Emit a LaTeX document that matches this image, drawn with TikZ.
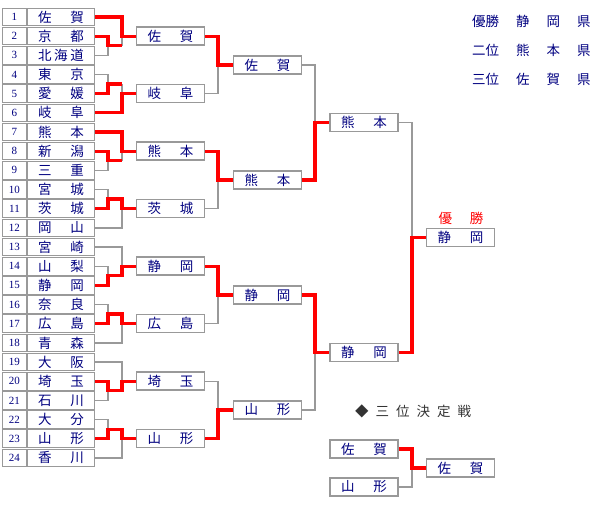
\documentclass[tikz,border=0pt]{standalone}
\usepackage{fontspec}
\setmainfont{Liberation Serif}
\newfontfamily\jp{Noto Sans CJK JP}
\definecolor{txtnavy}{RGB}{0,0,128}
\definecolor{lgrey}{RGB}{153,153,153}
\definecolor{dgrey}{RGB}{51,51,51}
\definecolor{rred}{RGB}{255,0,0}
\newcommand\two[2]{\hbox to 46pt{#1\hfill#2}}
\newcommand\three[3]{\hbox to 46pt{#1\hfill#2\hfill#3}}
\tikzset{
  cell/.style={draw=lgrey, line width=1pt, minimum height=17.6pt, inner sep=0pt, fill=white, text=txtnavy},
  numcell/.style={cell, minimum width=24pt, font=\fontsize{11}{11}\selectfont},
  namecell/.style={cell, minimum width=67pt, font=\jp\fontsize{13.5}{13.5}\selectfont},
  tbox/.style={draw=lgrey, line width=1.5pt, minimum width=68pt, minimum height=18pt, inner sep=0pt, fill=white, text=txtnavy, font=\jp\fontsize{13.5}{13.5}\selectfont},
  gl/.style={draw=lgrey, line width=1.3pt},
  rl/.style={draw=rred, line width=3.3pt, line join=miter},
  jtxt/.style={inner sep=0pt, font=\jp\fontsize{13.5}{13.5}\selectfont},
}
\begin{document}
\begin{tikzpicture}[x=1pt,y=-1pt]
\useasboundingbox (0,0) rectangle (600,510);
% table
\foreach \i/\y/\nm in {
  1/17.00/{\two{佐}{賀}}, 2/36.17/{\two{京}{都}}, 3/55.34/{\three{北}{海}{道}},
  4/74.51/{\two{東}{京}}, 5/93.68/{\two{愛}{媛}}, 6/112.85/{\two{岐}{阜}},
  7/132.02/{\two{熊}{本}}, 8/151.19/{\two{新}{潟}}, 9/170.36/{\two{三}{重}},
  10/189.53/{\two{宮}{城}}, 11/208.70/{\two{茨}{城}}, 12/227.87/{\two{岡}{山}},
  13/247.04/{\two{宮}{崎}}, 14/266.21/{\two{山}{梨}}, 15/285.38/{\two{静}{岡}},
  16/304.55/{\two{奈}{良}}, 17/323.72/{\two{広}{島}}, 18/342.89/{\two{青}{森}},
  19/362.06/{\two{大}{阪}}, 20/381.23/{\two{埼}{玉}}, 21/400.40/{\two{石}{川}},
  22/419.57/{\two{大}{分}}, 23/438.74/{\two{山}{形}}, 24/457.91/{\two{香}{川}}}{
  \node[numcell] (k\i) at (14.5,\y) {\i};
  \node[namecell] (n\i) at (61,\y) {\nm};
}
% round boxes
\node[tbox] (B1) at (170.5,36.17) {\two{佐}{賀}};
\node[tbox] (B2) at (170.5,93.68) {\two{岐}{阜}};
\node[tbox] (B3) at (170.5,151.19) {\two{熊}{本}};
\node[tbox] (B4) at (170.5,208.70) {\two{茨}{城}};
\node[tbox] (B5) at (170.5,266.21) {\two{静}{岡}};
\node[tbox] (B6) at (170.5,323.72) {\two{広}{島}};
\node[tbox] (B7) at (170.5,381.23) {\two{埼}{玉}};
\node[tbox] (B8) at (170.5,438.74) {\two{山}{形}};
\node[tbox] (C1) at (267.5,64.93) {\two{佐}{賀}};
\node[tbox] (C2) at (267.5,179.95) {\two{熊}{本}};
\node[tbox] (C3) at (267.5,294.97) {\two{静}{岡}};
\node[tbox] (C4) at (267.5,409.99) {\two{山}{形}};
\node[tbox] (D1) at (364,122.44) {\two{熊}{本}};
\node[tbox] (D2) at (364,352.48) {\two{静}{岡}};
\node[tbox] (E1) at (460.5,237.46) {\two{静}{岡}};
\node[tbox] (T1) at (364,449) {\two{佐}{賀}};
\node[tbox] (T2) at (364,487) {\two{山}{形}};
\node[tbox] (T3) at (460.5,468) {\two{佐}{賀}};
% junction coordinates
\coordinate (p1) at (108,45.76);  \coordinate (q1) at (122,45.76);  \coordinate (j1) at (122,36.17);
\coordinate (p2) at (108,84.10);  \coordinate (q2) at (122,84.10);  \coordinate (j2) at (122,93.68);
\coordinate (p3) at (108,160.78); \coordinate (q3) at (122,160.78); \coordinate (j3) at (122,151.19);
\coordinate (p4) at (108,199.12); \coordinate (q4) at (122,199.12); \coordinate (j4) at (122,208.70);
\coordinate (p5) at (108,275.80); \coordinate (q5) at (122,275.80); \coordinate (j5) at (122,266.21);
\coordinate (p6) at (108,314.14); \coordinate (q6) at (122,314.14); \coordinate (j6) at (122,323.72);
\coordinate (p7) at (108,390.82); \coordinate (q7) at (122,390.82); \coordinate (j7) at (122,381.23);
\coordinate (p8) at (108,429.16); \coordinate (q8) at (122,429.16); \coordinate (j8) at (122,438.74);
\coordinate (k1) at (218,64.93); \coordinate (k2) at (218,179.95);
\coordinate (k3) at (218,294.97); \coordinate (k4) at (218,409.99);
\coordinate (m1) at (315,122.44); \coordinate (m2) at (315,352.48);
\coordinate (f1) at (412,237.46); \coordinate (t1) at (412,468);
% grey (losing) lines
\draw[gl] (n3.east) -| (p1); \draw[gl] (q1) -- (j1);
\draw[gl] (n4.east) -| (p2); \draw[gl] (q2) -- (j2);
\draw[gl] (n9.east) -| (p3); \draw[gl] (q3) -- (j3);
\draw[gl] (n10.east) -| (p4); \draw[gl] (n12.east) -| (j4);
\draw[gl] (n14.east) -| (p5); \draw[gl] (n13.east) -| (j5);
\draw[gl] (n16.east) -| (p6); \draw[gl] (n18.east) -| (j6);
\draw[gl] (n21.east) -| (p7); \draw[gl] (n19.east) -| (j7);
\draw[gl] (n22.east) -| (p8); \draw[gl] (n24.east) -| (j8);
\draw[gl] (B2.east) -| (k1); \draw[gl] (B4.east) -| (k2);
\draw[gl] (B6.east) -| (k3); \draw[gl] (B7.east) -| (k4);
\draw[gl] (C1.east) -| (m1); \draw[gl] (C4.east) -| (m2);
\draw[gl] (D1.east) -| (f1); \draw[gl] (T2.east) -| (t1);
% red (winning) lines
\draw[rl] (n2.east) -| (p1) -- (q1);
\draw[rl] (n1.east) -| (j1) -- (B1.west);
\draw[rl] (n5.east) -| (p2) -- (q2);
\draw[rl] (n6.east) -| (j2) -- (B2.west);
\draw[rl] (n8.east) -| (p3) -- (q3);
\draw[rl] (n7.east) -| (j3) -- (B3.west);
\draw[rl] (n11.east) -| (p4) -- (q4) -- (j4) -- (B4.west);
\draw[rl] (n15.east) -| (p5) -- (q5) -- (j5) -- (B5.west);
\draw[rl] (n17.east) -| (p6) -- (q6) -- (j6) -- (B6.west);
\draw[rl] (n20.east) -| (p7) -- (q7) -- (j7) -- (B7.west);
\draw[rl] (n23.east) -| (p8) -- (q8) -- (j8) -- (B8.west);
\draw[rl] (B1.east) -| (k1) -- (C1.west);
\draw[rl] (B3.east) -| (k2) -- (C2.west);
\draw[rl] (B5.east) -| (k3) -- (C3.west);
\draw[rl] (B8.east) -| (k4) -- (C4.west);
\draw[rl] (C2.east) -| (m1) -- (D1.west);
\draw[rl] (C3.east) -| (m2) -- (D2.west);
\draw[rl] (D2.east) -| (f1) -- (E1.west);
\draw[rl] (T1.east) -| (t1) -- (T3.west);
% labels
\node[jtxt, text=rred] (champ) at (461,218.5) {\hbox to 45pt{優\hfill 勝}};
\node[jtxt, text=dgrey, anchor=west] (third) at (355,411) {◆\hspace{7pt}三\hspace{7pt}位\hspace{7pt}決\hspace{7pt}定\hspace{7pt}戦};
\node[jtxt, text=txtnavy, anchor=west] (r1) at (472,21) {優勝\hspace{17pt}静\hspace{17pt}岡\hspace{17pt}県};
\node[jtxt, text=txtnavy, anchor=west] (r2) at (472,50) {二位\hspace{17pt}熊\hspace{17pt}本\hspace{17pt}県};
\node[jtxt, text=txtnavy, anchor=west] (r3) at (472,79) {三位\hspace{17pt}佐\hspace{17pt}賀\hspace{17pt}県};
\end{tikzpicture}
\end{document}
